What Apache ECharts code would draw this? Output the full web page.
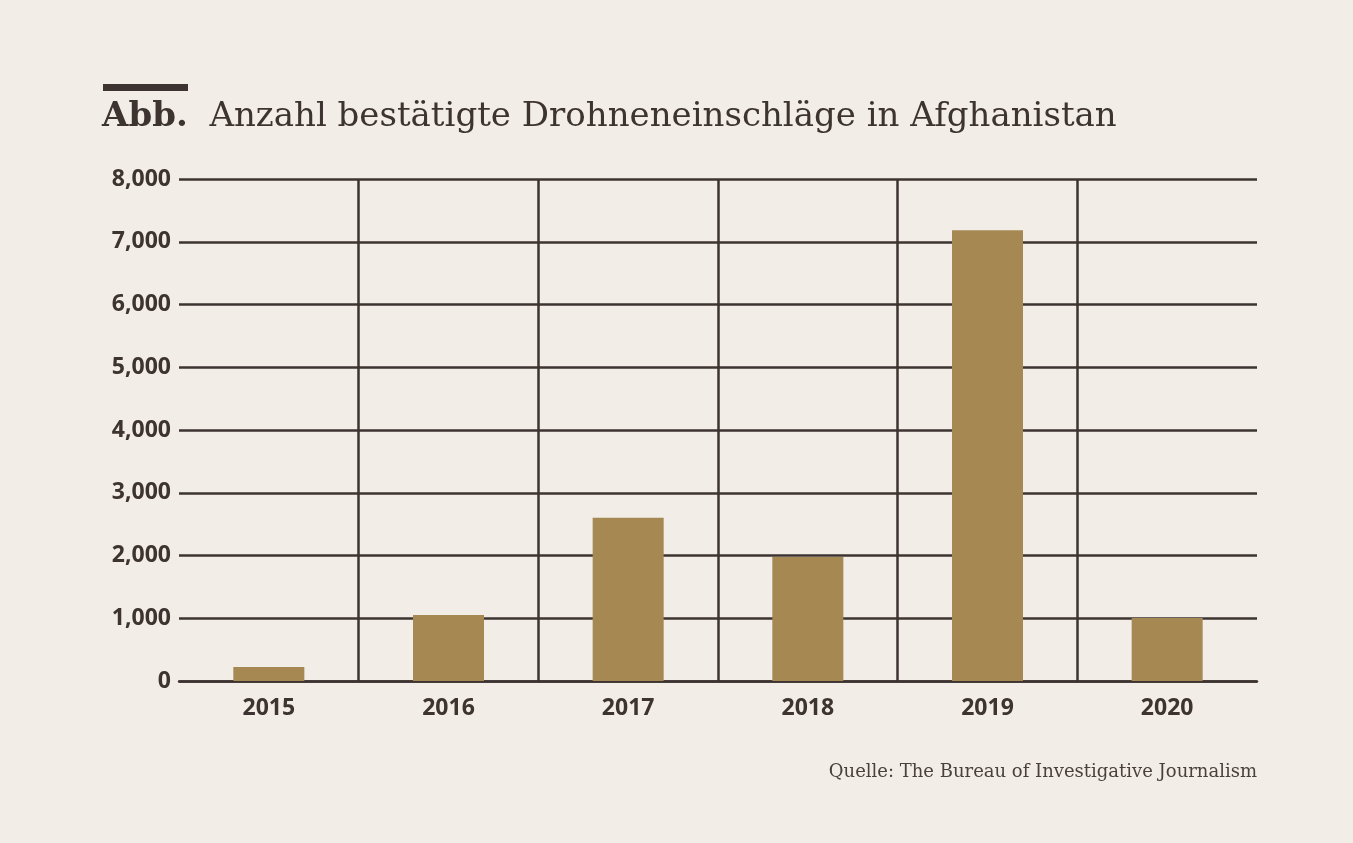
<!DOCTYPE html>
<html><head><meta charset="utf-8">
<script src="https://cdn.jsdelivr.net/npm/echarts@6/dist/echarts.min.js"></script>
<style>html,body{margin:0;background:#f2ede7}#c{width:1353px;height:843px}</style>
</head><body><div id="c"></div>
<script>
const years = ['2015', '2016', '2017', '2018', '2019', '2020'];
const strikes = [225, 1052, 2600, 1975, 7185, 1005];
const dark = '#3d3330';

const chart = echarts.init(document.getElementById('c'));
chart.setOption({
  backgroundColor: '#f2ede7',
  animation: false,
  graphic: [
    { type: 'rect', shape: { x: 103, y: 84, width: 85, height: 7 }, style: { fill: dark } },
    { type: 'text', left: 102, top: 100, style: {
        rich: {
          b: { fontFamily: 'DejaVu Serif', fontWeight: 'bold', fontSize: 34, fill: dark },
          n: { fontFamily: 'DejaVu Serif', fontSize: 34, fill: dark }
        },
        text: '{b|Abb.}{n|  Anzahl bestätigte Drohneneinschläge in Afghanistan}'
    } },
    { type: 'text', right: 96, top: 763, style: {
        text: 'Quelle: The Bureau of Investigative Journalism',
        fontFamily: 'DejaVu Serif', fontSize: 18, fill: '#4a403c' } }
  ],
  grid: { left: 179, right: 96, top: 179, bottom: 162 },
  xAxis: {
    type: 'category', data: years,
    axisLine: { lineStyle: { color: dark, width: 2.5 } },
    axisTick: { show: false },
    axisLabel: { color: dark, fontFamily: 'Open Sans', fontWeight: 'bold', fontSize: 23, margin: 16 },
    splitLine: { show: true, showMinLine: false, showMaxLine: false, lineStyle: { color: dark, width: 2.5 } }
  },
  yAxis: {
    type: 'value', min: 0, max: 8000, interval: 1000,
    axisLine: { show: false }, axisTick: { show: false },
    axisLabel: { color: dark, fontFamily: 'Open Sans', fontWeight: 'bold', fontSize: 23, margin: 8 },
    splitLine: { lineStyle: { color: dark, width: 2.5 } }
  },
  series: [{
    type: 'bar', data: strikes, barWidth: 71,
    itemStyle: { color: '#a68853' }
  }]
});
</script></body></html>
